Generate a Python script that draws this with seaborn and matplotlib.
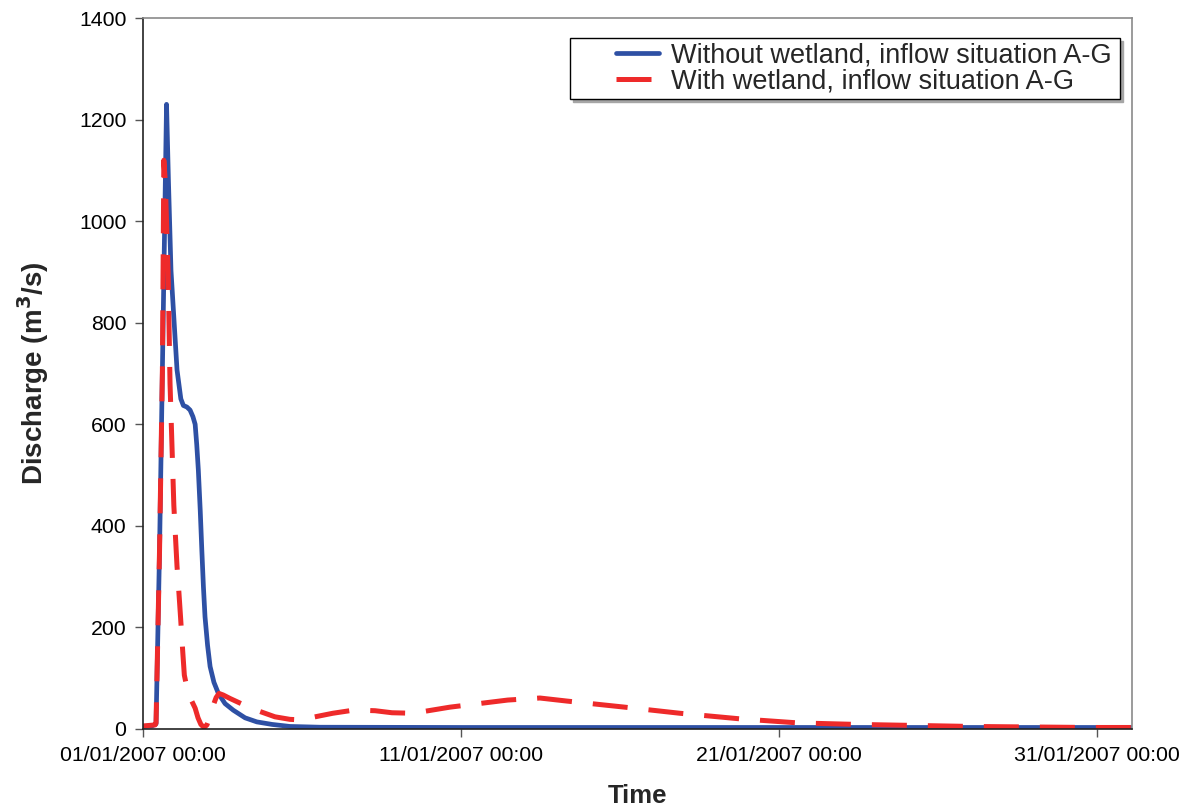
import numpy as np
import pandas as pd
import matplotlib
matplotlib.use("Agg")
import matplotlib.pyplot as plt
import matplotlib.dates as mdates
from matplotlib.legend_handler import HandlerLine2D
import seaborn as sns

# Discharge series, time in days after 01/01/2007 00:00
days_without = [0.0, 0.28, 0.41, 0.52, 0.61, 0.74, 0.80, 0.88, 1.07, 1.19, 1.27,
                1.38, 1.48, 1.57, 1.64, 1.69, 1.74, 1.80, 1.85, 1.90, 1.95, 2.03,
                2.11, 2.23, 2.37, 2.58, 2.84, 3.21, 3.58, 4.06, 4.62, 5.57, 10.0,
                20.0, 31.1]
q_without = [5, 6, 10, 352, 707, 1230, 1080, 903, 707, 650, 637,
             634, 628, 615, 600, 560, 510, 430, 352, 280, 221, 165,
             123, 92, 70, 50, 37, 22, 14, 9, 5, 3.5, 3,
             3, 3]

days_with = [0.0, 0.38, 0.41, 0.52, 0.61, 0.655, 0.70, 0.74, 0.79, 0.85, 0.91,
             0.97, 1.02, 1.07, 1.13, 1.18, 1.25, 1.30, 1.37, 1.48, 1.64, 1.73,
             1.82, 1.92, 2.01, 2.11, 2.20, 2.30, 2.39, 2.52, 2.74, 3.05, 3.52,
             4.15, 4.62, 4.94, 5.57, 5.97, 6.50, 6.83, 7.30, 7.83, 8.49, 9.65,
             11.47, 12.48, 13.33, 15.15, 16.88, 18.77, 20.60, 22.46, 24.28,
             26.07, 27.89, 29.78, 31.1]
q_with = [6, 8, 12, 352, 707, 1120, 1080, 1000, 900, 680, 560,
          440, 380, 320, 268, 221, 152, 106, 85, 62, 41, 22,
          9, 3, 8, 25, 45, 62, 70, 67, 60, 51, 38,
          24, 19, 18, 26, 31, 36, 37, 36, 32, 31, 43,
          57, 61, 55, 43, 31, 20, 12, 9, 7,
          5, 4, 3, 3]

label_without = "Without wetland, inflow situation A-G"
label_with = "With wetland, inflow situation A-G"
y_ticks = [0, 200, 400, 600, 800, 1000, 1200, 1400]
start = pd.Timestamp("2007-01-01 00:00")
x_tick_days = [0, 10, 20, 30]

df = pd.concat([
    pd.DataFrame({"Time": start + pd.to_timedelta(days_without, unit="D"),
                  "Discharge": q_without, "Series": label_without}),
    pd.DataFrame({"Time": start + pd.to_timedelta(days_with, unit="D"),
                  "Discharge": q_with, "Series": label_with}),
])

sns.set_style("ticks")
plt.rcParams["font.family"] = ["Liberation Sans", "DejaVu Sans"]

fig = plt.figure(figsize=(11.95, 8.11), dpi=100)
ax = fig.add_axes([143 / 1195, 1 - 729 / 811, (1132 - 143) / 1195, (729 - 18) / 811])

blue = "#2E50A4"
red = "#EE2A2A"
sns.lineplot(data=df, x="Time", y="Discharge", hue="Series", style="Series",
             palette={label_without: blue, label_with: red},
             dashes={label_without: "", label_with: (7, 4.2)},
             ax=ax, legend=False, sort=False, estimator=None)
lines = ax.get_lines()
lines[0].set_linewidth(3.4)
lines[1].set_linewidth(3.6)
for ln in lines:
    ln.set_solid_capstyle("round")
    ln.set_dash_capstyle("butt")
    ln.set_solid_joinstyle("round")
    ln.set_dash_joinstyle("round")

ax.set_xlim(start, start + pd.Timedelta(days=31.1))
ax.set_ylim(0, 1400)
ax.set_yticks(y_ticks)
ax.set_xticks([start + pd.Timedelta(days=d) for d in x_tick_days])
ax.xaxis.set_major_formatter(mdates.DateFormatter("%d/%m/%Y %H:%M"))
ax.tick_params(axis="both", labelsize=15.3, length=6, width=1, color="#555555",
               direction="out", pad=6, labelcolor="black")
ax.set_xlabel("Time", fontsize=18.5, fontweight="bold", labelpad=14)
ax.set_ylabel("Discharge (m$^\\mathbf{3}$/s)", fontsize=20, fontweight="bold",
              labelpad=20)

for side in ["left", "bottom"]:
    ax.spines[side].set_color("#222222")
    ax.spines[side].set_linewidth(1.2)
for side in ["top", "right"]:
    ax.spines[side].set_color("#8a8a8a")
    ax.spines[side].set_linewidth(1.2)


class ShiftedLineHandler(HandlerLine2D):
    """Draws the legend line in the right part of the handle box."""
    def __init__(self, offset, **kw):
        super().__init__(**kw)
        self.offset = offset

    def create_artists(self, legend, orig_handle, xdescent, ydescent, width,
                       height, fontsize, trans):
        return super().create_artists(legend, orig_handle, xdescent - self.offset,
                                      ydescent, width - self.offset, height,
                                      fontsize, trans)


# Legend box spanning a fixed width in the upper right of the axes
x0 = (570 - 143) / 989
w = (1120 - 570) / 989
top = (729 - 38) / 711
leg = ax.legend(lines, [label_without, label_with],
                loc="upper left", bbox_to_anchor=(x0, top - 0.08, w, 0.08),
                mode="expand", borderaxespad=0, fontsize=19.5, frameon=True,
                fancybox=False, edgecolor="black", framealpha=1,
                handlelength=3.1, handletextpad=0.45, borderpad=0.17,
                labelspacing=0.0,
                shadow={"color": "0.65", "alpha": 1.0},
                handler_map={lines[0]: ShiftedLineHandler(30),
                             lines[1]: ShiftedLineHandler(30)})
leg.get_frame().set_linewidth(1.0)

fig.savefig("out.png", dpi=100)
